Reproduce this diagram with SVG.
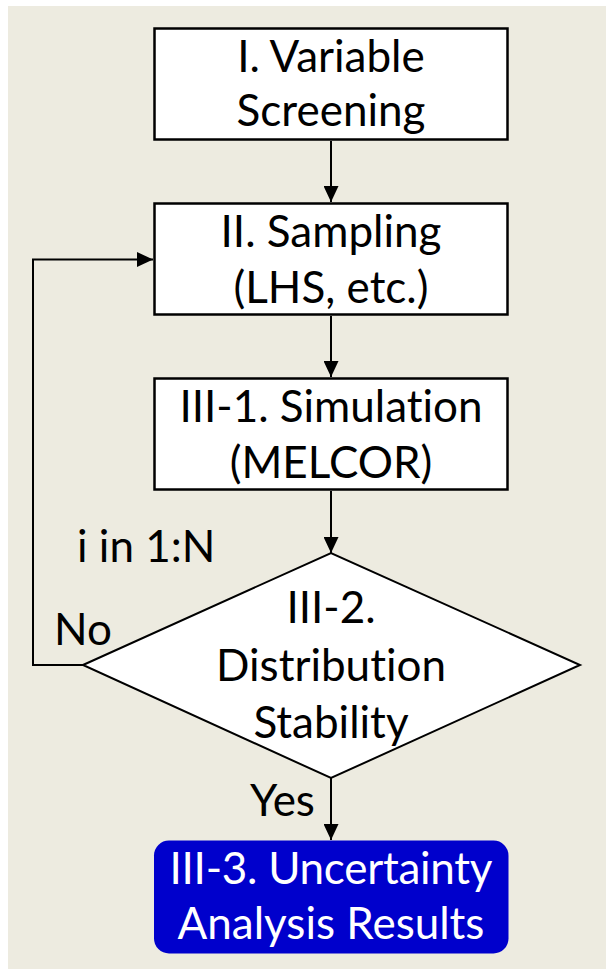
<svg xmlns="http://www.w3.org/2000/svg" width="606" height="969" viewBox="0 0 606 969">
  <style>
    .box { fill: #FFFFFF; stroke: #000000; stroke-width: 2.5; }
    .dia { fill: #FFFFFF; stroke: #000000; stroke-width: 2; stroke-linejoin: miter; }
    .term { fill: #0000CC; }
    .t { font-family: Lato, "Liberation Sans", sans-serif; font-size: 44px; fill: #000000; text-anchor: middle; font-variant-ligatures: none; font-feature-settings: "liga" 0, "clig" 0; }
    .tw { fill: #FFFFFF; }
    .lbl { font-family: Lato, "Liberation Sans", sans-serif; font-size: 44px; fill: #000000; font-variant-ligatures: none; font-feature-settings: "liga" 0, "clig" 0; }
    .conn { fill: none; stroke: #000000; stroke-width: 2; }
  </style>
  <defs>
    <marker id="arrow" markerUnits="userSpaceOnUse" markerWidth="16" markerHeight="15" refX="16" refY="7.5" orient="auto">
      <path d="M0,0 L16,7.5 L0,15 z" fill="#000000"/>
    </marker>
  </defs>
  <rect x="0" y="0" width="606" height="969" fill="#FFFFFF"/>
  <rect x="8" y="6" width="598" height="963" fill="#EDEBE0"/>

  <g id="connectors">
    <line class="conn" x1="331" y1="141" x2="331" y2="202" marker-end="url(#arrow)"/>
    <line class="conn" x1="331" y1="316" x2="331" y2="377" marker-end="url(#arrow)"/>
    <line class="conn" x1="331" y1="491" x2="331" y2="553" marker-end="url(#arrow)"/>
    <line class="conn" x1="331" y1="778" x2="331" y2="840" marker-end="url(#arrow)"/>
    <polyline class="conn" points="83,665 33,665 33,259.5 153,259.5" marker-end="url(#arrow)"/>
  </g>

  <g id="node-screening">
    <rect class="box" x="154.5" y="28.5" width="353" height="111"/>
    <text class="t" x="331" y="72">I. Variable</text>
    <text class="t" x="331" y="126">Screening</text>
  </g>

  <g id="node-sampling">
    <rect class="box" x="154.5" y="203.5" width="353" height="111"/>
    <text class="t" x="331" y="247">II. Sampling</text>
    <text class="t" x="331" y="303">(LHS, etc.)</text>
  </g>

  <g id="node-simulation">
    <rect class="box" x="154.5" y="378.5" width="353" height="111"/>
    <text class="t" x="331" y="422">III-1. Simulation</text>
    <text class="t" x="331" y="478">(MELCOR)</text>
  </g>

  <g id="node-stability">
    <polygon class="dia" points="83,665 331,553 580,665 331,778"/>
    <text class="t" x="331" y="623">III-2.</text>
    <text class="t" x="331" y="681">Distribution</text>
    <text class="t" x="331" y="738">Stability</text>
  </g>

  <g id="node-results">
    <rect class="term" x="154" y="840.5" width="354.5" height="113" rx="15" ry="15"/>
    <text class="t tw" x="331" y="884" textLength="323" lengthAdjust="spacing">III-3. Uncertainty</text>
    <text class="t tw" x="331" y="939">Analysis Results</text>
  </g>

  <g id="labels">
    <text class="lbl" x="77" y="562">i in 1:N</text>
    <text class="lbl" x="54" y="645">No</text>
    <text class="lbl" x="250" y="816">Yes</text>
  </g>
</svg>
